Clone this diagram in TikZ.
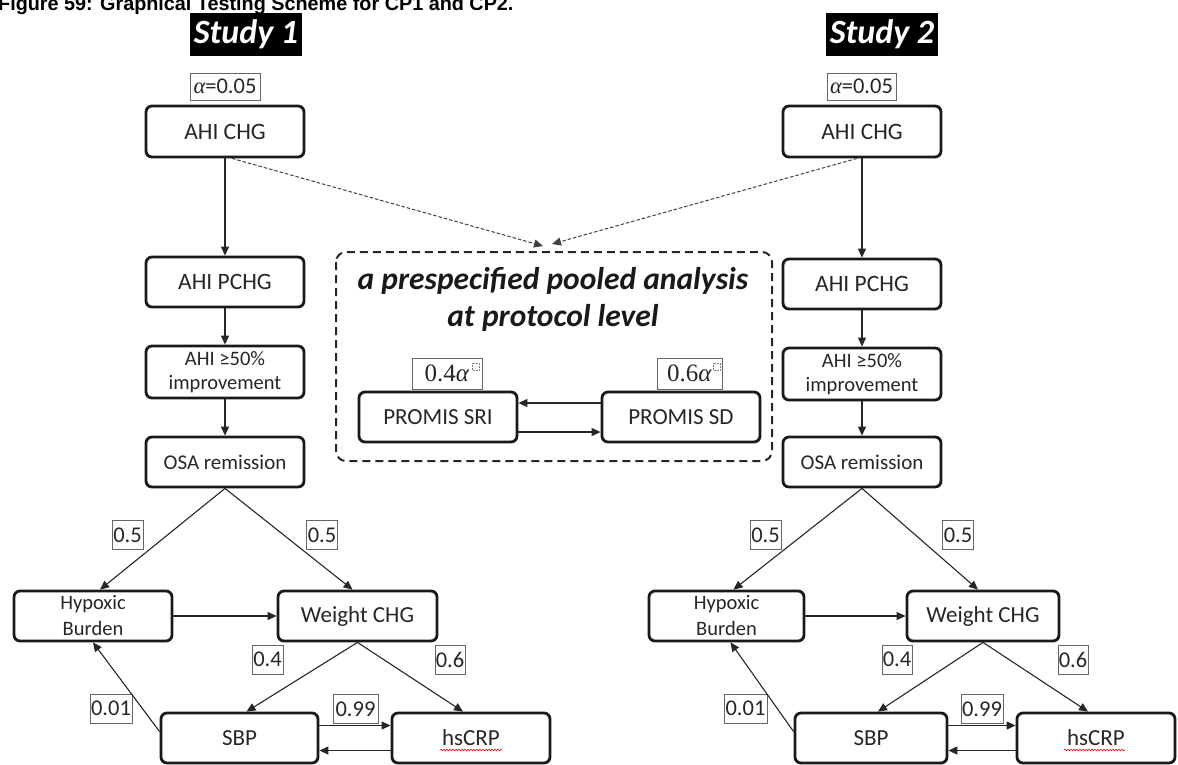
\documentclass[tikz,border=0pt]{standalone}
\usepackage{fontspec}
\setmainfont{Carlito}
\newfontfamily\titlefont{Liberation Sans}
\newfontfamily\mathlike{Liberation Serif}
\usetikzlibrary{arrows.meta,decorations.pathmorphing}
\newcommand{\fsz}[2]{\fontsize{#1}{#2}\selectfont}
\newcommand{\alf}{{\mathlike\itshape α}}

\begin{document}
\begin{tikzpicture}[x=1pt,y=-1pt,
  stepbox/.style={draw=black!90, line width=2.8pt, rounded corners=6pt, inner sep=0pt,
    align=center, text=black!85, minimum width=158pt, minimum height=50pt},
  prob/.style={draw=black!60, line width=0.8pt, inner sep=0pt, text=black!85,
    font=\fsz{22.5}{27}, minimum height=29pt},
  flow/.style={draw=black!85, line width=1.1pt, -{Triangle[length=9pt,width=8pt]}},
  pooled/.style={draw=black!75, line width=1pt, dash pattern=on 3.5pt off 2pt,
    -{Triangle[length=9pt,width=8pt]}},
  banner/.style={fill=black, text=white, font=\bfseries\itshape\fsz{34}{40}, inner sep=0pt,
    minimum width=112pt, minimum height=43pt},
  spell/.style={red, line width=0.6pt, decorate,
    decoration={snake, amplitude=0.8pt, segment length=3pt}}
]
\useasboundingbox (0,0) rectangle (1178,764);

% caption (runs off the top edge)
\node[anchor=base west, font=\titlefont\bfseries\fsz{19.8}{23}, inner sep=0pt] (title)
  at (-2,10) {Figure 59: Graphical Testing Scheme for CP1 and CP2.};

% ---------------- Study 1 ----------------
\node[banner] (st1) at (246,34.5) {Study 1};
\node[prob, minimum width=70pt, minimum height=27pt] (al1) at (225,86.5) {\alf=0.05};
\node[stepbox, minimum height=51pt, font=\fsz{23.5}{27}] (chg1) at (225,131.5) {AHI CHG};
\node[stepbox, font=\fsz{23.5}{27}] (pchg1) at (225,282) {AHI PCHG};
\node[stepbox, minimum height=52pt, font=\fsz{20.5}{24}] (imp1) at (225,372) {AHI ≥50\%\\improvement};
\node[stepbox, font=\fsz{21}{25}] (osa1) at (225,462) {OSA remission};
\node[stepbox, font=\fsz{20.5}{26}] (hyp1) at (93,616) {Hypoxic\\Burden};
\node[stepbox, minimum width=159pt, font=\fsz{23}{27}] (wt1) at (357.5,616) {Weight CHG};
\node[stepbox, minimum width=157pt, font=\fsz{23}{27}] (sbp1) at (239.5,738) {SBP};
\node[stepbox, font=\fsz{23}{27}] (crp1) at (471,738) {hsCRP};

\node[prob, minimum width=31pt] (pa1) at (127.5,535) {0.5};
\node[prob, minimum width=31pt] (pb1) at (322,535) {0.5};
\node[prob, minimum width=31pt] (pc1) at (267.5,659.5) {0.4};
\node[prob, minimum width=30pt] (pd1) at (450,659.5) {0.6};
\node[prob, minimum width=42pt] (pe1) at (111,708.5) {0.01};
\node[prob, minimum width=45pt] (pf1) at (355.5,709) {0.99};

\draw[flow] (chg1) -- (pchg1);
\draw[flow] (pchg1) -- (imp1);
\draw[flow] (imp1) -- (osa1);
\draw[flow] (osa1.south) -- ([xshift=7pt]hyp1.north);
\draw[flow] (osa1.south) -- ([xshift=-5pt]wt1.north);
\draw[flow] (hyp1.east) -- (wt1.west);
\draw[flow] (wt1.south) -- ([xshift=7pt]sbp1.north);
\draw[flow] (wt1.south) -- ([xshift=-8pt]crp1.north);
\draw[flow] ([yshift=-20pt]sbp1.north west) -- (hyp1.south);
\draw[flow] ([yshift=12.5pt]sbp1.east) -- ([yshift=12.5pt]crp1.west);
\draw[flow] ([yshift=-12.5pt]crp1.west) -- ([yshift=-12.5pt]sbp1.east);
\draw[spell] (440,750) -- (502,750);

% ---------------- Study 2 ----------------
\node[banner] (st2) at (882,34.5) {Study 2};
\node[prob, minimum width=69pt, minimum height=27pt] (al2) at (861.5,86.5) {\alf=0.05};
\node[stepbox, minimum height=51pt, font=\fsz{23.5}{27}] (chg2) at (862,131.5) {AHI CHG};
\node[stepbox, font=\fsz{23.5}{27}] (pchg2) at (862,284) {AHI PCHG};
\node[stepbox, minimum height=52pt, font=\fsz{20.5}{24}] (imp2) at (862,374) {AHI ≥50\%\\improvement};
\node[stepbox, font=\fsz{21}{25}] (osa2) at (862,462) {OSA remission};
\node[stepbox, minimum width=155pt, font=\fsz{20.5}{26}] (hyp2) at (726.5,616) {Hypoxic\\Burden};
\node[stepbox, minimum width=152pt, font=\fsz{23}{27}] (wt2) at (983,616) {Weight CHG};
\node[stepbox, minimum width=152pt, font=\fsz{23}{27}] (sbp2) at (871,738) {SBP};
\node[stepbox, font=\fsz{23}{27}] (crp2) at (1096,738) {hsCRP};

\node[prob, minimum width=31pt] (pa2) at (765.5,535) {0.5};
\node[prob, minimum width=31pt] (pb2) at (958,535) {0.5};
\node[prob, minimum width=30pt] (pc2) at (897,659.5) {0.4};
\node[prob, minimum width=30pt] (pd2) at (1073,659.5) {0.6};
\node[prob, minimum width=43pt] (pe2) at (745.5,708.5) {0.01};
\node[prob, minimum width=42pt] (pf2) at (982,709) {0.99};

\draw[flow] (chg2) -- (pchg2);
\draw[flow] (pchg2) -- (imp2);
\draw[flow] (imp2) -- (osa2);
\draw[flow] (osa2.south) -- ([xshift=7pt]hyp2.north);
\draw[flow] (osa2.south) -- ([xshift=-5pt]wt2.north);
\draw[flow] (hyp2.east) -- (wt2.west);
\draw[flow] (wt2.south) -- ([xshift=7pt]sbp2.north);
\draw[flow] (wt2.south) -- ([xshift=-8pt]crp2.north);
\draw[flow] ([yshift=-20pt]sbp2.north west) -- ([xshift=4pt]hyp2.south);
\draw[flow] ([yshift=12.5pt]sbp2.east) -- ([yshift=12.5pt]crp2.west);
\draw[flow] ([yshift=-12.5pt]crp2.west) -- ([yshift=-12.5pt]sbp2.east);
\draw[spell] (1064,750) -- (1125,750);

% ---------------- pooled analysis ----------------
\draw[draw=black!85, line width=2pt, dash pattern=on 8pt off 5pt, rounded corners=10pt]
  (336,252) rectangle (772,461);
\node[font=\bfseries\itshape\fsz{31.5}{37}, align=center, text=black!90, inner sep=0pt]
  (hdr) at (553,299) {a prespecified pooled analysis\\at protocol level};
\node[stepbox, font=\fsz{23}{27}] (sri) at (438,417) {PROMIS SRI};
\node[stepbox, font=\fsz{23}{27}] (sd) at (681,417) {PROMIS SD};
\node[prob, minimum width=70pt, minimum height=31pt, font=\mathlike\fsz{25}{28}] (wsri) at (447,373.5) {0.4\textit{α}\hspace{10pt}};
\node[prob, minimum width=65pt, minimum height=31pt, font=\mathlike\fsz{25}{28}] (wsd) at (689.5,373.5) {0.6\textit{α}\hspace{10pt}};
\draw[densely dotted, black!50, line width=0.5pt] (472,363) rectangle (479,370);
\draw[densely dotted, black!50, line width=0.5pt] (713,363) rectangle (720,370);
\draw[flow] ([yshift=14pt]sd.west) -- ([yshift=14pt]sri.east);
\draw[flow] ([yshift=-15pt]sri.east) -- ([yshift=-15pt]sd.west);

\coordinate (in1) at (543,246);
\coordinate (in2) at (552,244);
\draw[pooled] ([xshift=7pt]chg1.south) -- (in1);
\draw[pooled] ([xshift=-5pt]chg2.south) -- (in2);
\end{tikzpicture}
\end{document}
